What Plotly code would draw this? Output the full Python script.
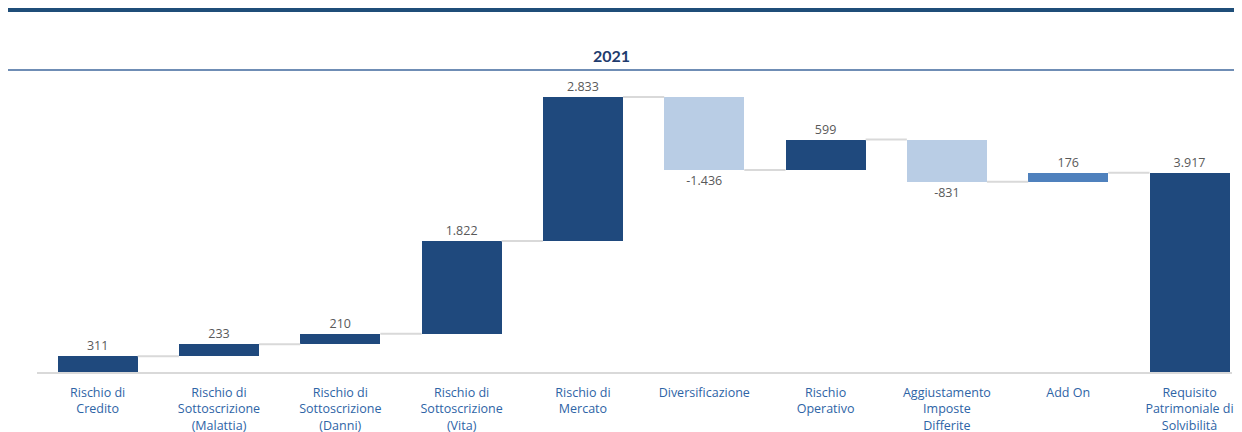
import plotly.graph_objects as go

categories = [
    "Rischio di<br>Credito",
    "Rischio di<br>Sottoscrizione<br>(Malattia)",
    "Rischio di<br>Sottoscrizione<br>(Danni)",
    "Rischio di<br>Sottoscrizione<br>(Vita)",
    "Rischio di<br>Mercato",
    "Diversificazione",
    "Rischio<br>Operativo",
    "Aggiustamento<br>Imposte<br>Differite",
    "Add On",
    "Requisito<br>Patrimoniale di<br>Solvibilità",
]
values = [311, 233, 210, 1822, 2833, -1436, 599, -831, 176, 3917]
is_total = [False] * 9 + [True]

NAVY = "#1f497d"
LIGHT = "#b9cde5"
MID = "#4f81bd"

# bases and colours for the floating bars
bases, colors, ends = [], [], []
running = 0
for v, tot in zip(values, is_total):
    if tot:
        bases.append(0)
        running = v
    else:
        bases.append(running)
        running += v
    ends.append(running)
for i, v in enumerate(values):
    if categories[i] == "Add On":
        colors.append(MID)
    elif v < 0:
        colors.append(LIGHT)
    else:
        colors.append(NAVY)

xs = list(range(len(categories)))
bw = 0.66

# connector segments
cx, cy = [], []
for i in range(len(values) - 1):
    cx += [i + bw / 2, i + 1 - bw / 2, None]
    cy += [ends[i], ends[i], None]

# label anchor: far end of each bar
lab_y = [b + v for b, v in zip(bases, values)]
lab_pos = ["top center" if v >= 0 else "bottom center" for v in values]
# invisible marker sets the gap between bar end and label
lab_gap = [3 if v >= 0 else 8 for v in values]

fig = go.Figure()
fig.add_trace(go.Scatter(x=cx, y=cy, mode="lines",
                         line=dict(color="#d9d9d9", width=2),
                         hoverinfo="skip", showlegend=False))
fig.add_trace(go.Bar(
    x=xs, y=values, base=bases, width=bw,
    marker=dict(color=colors, line=dict(width=0)),
    showlegend=False,
))
fig.add_trace(go.Scatter(
    x=xs, y=lab_y, mode="markers+text", text=values, texttemplate="%{text:,}",
    textposition=lab_pos,
    marker=dict(size=lab_gap, color="rgba(0,0,0,0)", opacity=0,
                line=dict(width=0, color="rgba(0,0,0,0)")),
    textfont=dict(family="Open Sans", size=12.5, color="#595959"),
    cliponaxis=False, showlegend=False, hoverinfo="skip",
))

# page body has an 8px margin, so margins are shifted up/left by 8
fig.update_layout(
    width=1242, height=432,
    margin=dict(l=29, r=18, t=72, b=68, autoexpand=False),
    plot_bgcolor="white", paper_bgcolor="white",
    separators=",.",
    bargap=0,
    showlegend=False,
    xaxis=dict(
        tickmode="array", tickvals=xs, ticktext=categories,
        range=[-0.5, 9.35], showgrid=False, zeroline=False,
        showline=True, linecolor="#d9d9d9", linewidth=2,
        ticks="outside", ticklen=8, tickcolor="rgba(0,0,0,0)",
        automargin=False,
        tickfont=dict(family="Open Sans", size=12.5, color="#2e64a6"),
    ),
    yaxis=dict(range=[0, 5743], visible=False, showgrid=False,
               zeroline=False, automargin=False),
    annotations=[dict(
        text="<b>2021</b>", x=0.481, y=1.0856, xref="paper", yref="paper",
        xanchor="center", yanchor="middle", showarrow=False,
        font=dict(family="Lato", size=16, color="#1f3c6e"),
    )],
    shapes=[
        dict(type="line", xref="paper", yref="paper", x0=-0.027, x1=1.004,
             y0=1.2397, y1=1.2397, line=dict(color="#1f4e79", width=4)),
        dict(type="line", xref="paper", yref="paper", x0=-0.0245, x1=1.004,
             y0=1.0342, y1=1.0342, line=dict(color="#6f8db5", width=2)),
    ],
)

fig.write_html("out.html")
